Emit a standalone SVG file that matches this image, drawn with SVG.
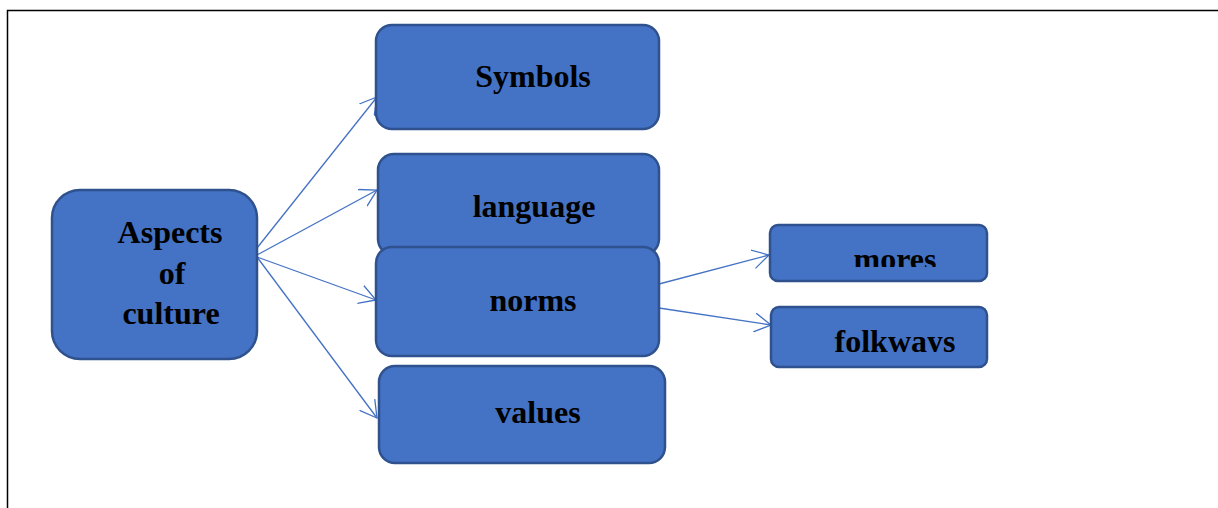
<svg xmlns="http://www.w3.org/2000/svg" width="1218" height="508" viewBox="0 0 1218 508">
  <style>
    .box { fill: #4472C4; stroke: #2F528F; stroke-width: 2.5; }
    .lbl { font-family: "Liberation Serif", "Times New Roman", serif; font-weight: bold; font-size: 32px; fill: #000; text-anchor: middle; }
    .link { stroke: #4472C4; stroke-width: 1.3; fill: none; marker-end: url(#open-arrow); }
  </style>
  <defs>
    <marker id="open-arrow" viewBox="0 0 18 20" refX="16.5" refY="10" markerWidth="18" markerHeight="20" markerUnits="userSpaceOnUse" orient="auto">
      <path d="M0,0.5 L16.5,10 L0,19.5" fill="none" stroke="#4472C4" stroke-width="1.3"/>
    </marker>
    <clipPath id="clip-mores"><rect x="770" y="225" width="217" height="42"/></clipPath>
    <clipPath id="clip-folkways"><rect x="771" y="307" width="216" height="45"/></clipPath>
  </defs>

  <rect width="1218" height="508" fill="#fff"/>
  <!-- page frame -->
  <path d="M7.5,508 V10.5 H1218" fill="none" stroke="#000" stroke-width="1.5"/>

  <g id="connectors">
    <line class="link" x1="257" y1="248" x2="377" y2="97"/>
    <line class="link" x1="257" y1="255" x2="377" y2="190"/>
    <line class="link" x1="257" y1="257" x2="376" y2="300"/>
    <line class="link" x1="257" y1="257" x2="377" y2="418"/>
    <line class="link" x1="659" y1="284" x2="769" y2="255"/>
    <line class="link" x1="659" y1="308" x2="771" y2="325"/>
  </g>

  <g id="node-aspects">
    <rect class="box" x="52" y="190" width="205" height="169" rx="28"/>
    <text class="lbl" x="170" y="243">Aspects</text>
    <text class="lbl" x="172" y="284">of</text>
    <text class="lbl" x="171" y="324">culture</text>
  </g>

  <g id="node-symbols">
    <rect class="box" x="376" y="25" width="283" height="104" rx="16"/>
    <text class="lbl" x="533" y="87">Symbols</text>
  </g>

  <g id="node-language">
    <rect class="box" x="378" y="154" width="281" height="101" rx="16"/>
    <text class="lbl" x="534" y="217">language</text>
  </g>

  <g id="node-norms">
    <rect class="box" x="376" y="247" width="283" height="109" rx="16"/>
    <text class="lbl" x="533" y="311">norms</text>
  </g>

  <g id="node-values">
    <rect class="box" x="379" y="366" width="286" height="97" rx="16"/>
    <text class="lbl" x="538" y="423">values</text>
  </g>

  <g id="node-mores">
    <rect class="box" x="770" y="225" width="217" height="56" rx="8"/>
    <text class="lbl" x="895" y="270" clip-path="url(#clip-mores)">mores</text>
  </g>

  <g id="node-folkways">
    <rect class="box" x="771" y="307" width="216" height="60" rx="8"/>
    <text class="lbl" x="895" y="352" clip-path="url(#clip-folkways)">folkways</text>
  </g>
</svg>
